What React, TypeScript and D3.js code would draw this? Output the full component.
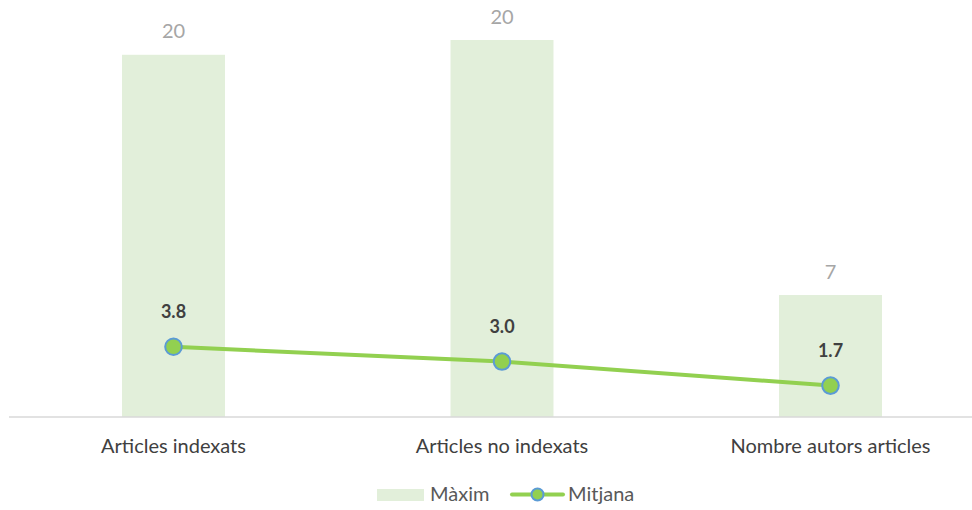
import React from "react";
import * as d3 from "d3";

const categories = ["Articles indexats", "Articles no indexats", "Nombre autors articles"];
const maxValues = [19.6, 20.4, 6.6];
const meanValues = [3.8, 3.0, 1.7];
const seriesNames = ["Màxim", "Mitjana"];

const W = 972;
const H = 510;
const FONT = "Lato, 'Open Sans', 'Liberation Sans', sans-serif";

export default function App() {
  const x = d3
    .scaleBand<string>()
    .domain(categories)
    .range([9.25, 994.75])
    .paddingInner(0.6865)
    .paddingOuter(0.34325);
  const y = d3.scaleLinear().domain([0, 20.4]).range([417, 40]);
  const cx = (c: string) => (x(c) as number) + x.bandwidth() / 2;

  const line = d3
    .line<number>()
    .x((_, i) => cx(categories[i]))
    .y((d) => y(d));

  const fmt0 = d3.format(".0f");
  const fmt1 = d3.format(".1f");

  return (
    <svg
      width={W}
      height={H}
      style={{ position: "absolute", left: 0, top: 0, background: "#fff" }}
      fontFamily={FONT}
    >
      <rect x={0} y={0} width={W} height={H} fill="#fff" />
      {categories.map((c, i) => (
        <rect
          key={c}
          x={x(c)}
          y={y(maxValues[i])}
          width={x.bandwidth()}
          height={y(0) - y(maxValues[i])}
          fill="#E2EFDA"
        />
      ))}
      {categories.map((c, i) => (
        <text
          key={"ml" + c}
          x={cx(c)}
          y={y(maxValues[i]) - 16.5}
          textAnchor="middle"
          fontSize={20}
          fill="#A6A6A6"
        >
          {fmt0(maxValues[i])}
        </text>
      ))}
      <line x1={9} x2={W} y1={y(0)} y2={y(0)} stroke="#D9D9D9" strokeWidth={1.3} />
      <path d={line(meanValues) || ""} fill="none" stroke="#92D050" strokeWidth={4} strokeLinecap="round" />
      {categories.map((c, i) => (
        <circle
          key={"pt" + c}
          cx={cx(c)}
          cy={y(meanValues[i])}
          r={8.3}
          fill="#92D050"
          stroke="#5B9BD5"
          strokeWidth={2}
        />
      ))}
      {categories.map((c, i) => (
        <text
          key={"ll" + c}
          x={cx(c)}
          y={y(meanValues[i]) - 29}
          textAnchor="middle"
          fontSize={18}
          fontWeight="bold"
          fill="#404040"
        >
          {fmt1(meanValues[i])}
        </text>
      ))}
      {categories.map((c) => (
        <text key={"cl" + c} x={cx(c)} y={453} textAnchor="middle" fontSize={20} fill="#404040">
          {c}
        </text>
      ))}
      <g>
        <rect x={377} y={489} width={47} height={12} fill="#E2EFDA" />
        <text x={430} y={501} fontSize={20} fill="#595959">
          {seriesNames[0]}
        </text>
        <line x1={512} x2={563} y1={494.5} y2={494.5} stroke="#92D050" strokeWidth={4} strokeLinecap="round" />
        <circle cx={537.5} cy={494.5} r={6} fill="#92D050" stroke="#5B9BD5" strokeWidth={2} />
        <text x={568} y={501} fontSize={20} fill="#595959">
          {seriesNames[1]}
        </text>
      </g>
    </svg>
  );
}
